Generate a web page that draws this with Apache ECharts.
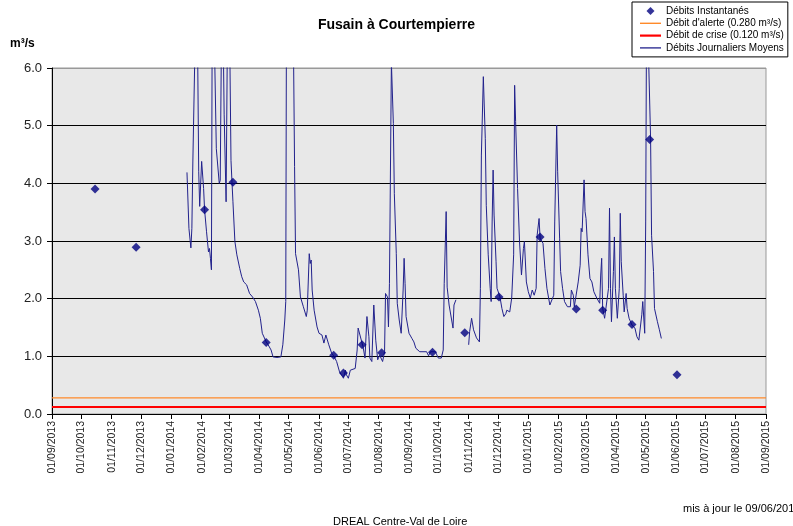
<!DOCTYPE html>
<html>
<head>
<meta charset="utf-8">
<script src="https://cdn.jsdelivr.net/npm/echarts@6/dist/echarts.min.js"></script>
<style>
html,body{margin:0;padding:0;background:#fff;}
#chart{width:793px;height:526px;}
</style>
</head>
<body>
<div id="chart"></div>
<script>
// ticks of the x axis: first day of each month
var monthTicks = ['2013-09-01','2013-10-01','2013-11-01','2013-12-01','2014-01-01','2014-02-01','2014-03-01',
    '2014-04-01','2014-05-01','2014-06-01','2014-07-01','2014-08-01','2014-09-01','2014-10-01','2014-11-01',
    '2014-12-01','2015-01-01','2015-02-01','2015-03-01','2015-04-01','2015-05-01','2015-06-01','2015-07-01',
    '2015-08-01','2015-09-01'];

// débits instantanés (diamants)
var spotDates = ['2013-10-15','2013-11-26','2014-02-04','2014-03-05','2014-04-08','2014-06-16','2014-06-26',
    '2014-07-15','2014-08-04','2014-09-25','2014-10-28','2014-12-02','2015-01-13','2015-02-19','2015-03-18',
    '2015-04-17','2015-05-05','2015-06-02'];
var spotValues = [3.90,2.89,3.54,4.02,1.24,1.02,0.71,1.20,1.06,1.07,1.41,2.03,3.07,1.82,1.80,1.55,4.76,0.68];

// débits journaliers moyens ('-' = pas de donnée)
var flowDates = ['2014-01-17','2014-01-19','2014-01-21','2014-01-22','2014-01-23','2014-01-25','2014-01-27',
    '2014-01-29','2014-01-30','2014-02-01','2014-02-03','2014-02-04','2014-02-06','2014-02-08','2014-02-09',
    '2014-02-10','2014-02-11','2014-02-12','2014-02-14','2014-02-16','2014-02-19','2014-02-20','2014-02-22',
    '2014-02-24','2014-02-26','2014-02-28','2014-03-02','2014-03-03','2014-03-04','2014-03-05','2014-03-07',
    '2014-03-09','2014-03-12','2014-03-14','2014-03-16','2014-03-19','2014-03-22','2014-03-25','2014-03-28',
    '2014-03-31','2014-04-02','2014-04-04','2014-04-08','2014-04-10','2014-04-13','2014-04-15','2014-04-17',
    '2014-04-19','2014-04-23','2014-04-25','2014-04-27','2014-04-28','2014-04-29','2014-05-05','2014-05-07',
    '2014-05-08','2014-05-11','2014-05-13','2014-05-16','2014-05-19','2014-05-20','2014-05-22','2014-05-23',
    '2014-05-24','2014-05-25','2014-05-27','2014-05-30','2014-06-01','2014-06-04','2014-06-06','2014-06-08',
    '2014-06-11','2014-06-14','2014-06-16','2014-06-19','2014-06-22','2014-06-24','2014-06-26','2014-06-28',
    '2014-06-29','2014-07-01','2014-07-03','2014-07-05','2014-07-08','2014-07-10','2014-07-11','2014-07-13',
    '2014-07-15','2014-07-16','2014-07-18','2014-07-19','2014-07-20','2014-07-22','2014-07-23','2014-07-25',
    '2014-07-27','2014-07-29','2014-07-31','2014-08-02','2014-08-05','2014-08-07','2014-08-08','2014-08-10',
    '2014-08-11','2014-08-12','2014-08-14','2014-08-16','2014-08-17','2014-08-19','2014-08-20','2014-08-22',
    '2014-08-24','2014-08-26','2014-08-27','2014-08-28','2014-08-29','2014-09-01','2014-09-04','2014-09-06',
    '2014-09-08','2014-09-12','2014-09-19','2014-09-21','2014-09-23','2014-09-28','2014-10-01','2014-10-04',
    '2014-10-06','2014-10-07','2014-10-09','2014-10-10','2014-10-12','2014-10-14','2014-10-16','2014-10-17',
    '2014-10-19','2014-10-25','2014-11-01','2014-11-02','2014-11-04','2014-11-06','2014-11-09','2014-11-12',
    '2014-11-13','2014-11-14','2014-11-16','2014-11-18','2014-11-19','2014-11-21','2014-11-23','2014-11-24',
    '2014-11-25','2014-11-26','2014-11-27','2014-11-29','2014-11-30','2014-12-03','2014-12-05','2014-12-07',
    '2014-12-09','2014-12-10','2014-12-13','2014-12-15','2014-12-17','2014-12-18','2014-12-19','2014-12-21',
    '2014-12-23','2014-12-25','2014-12-27','2014-12-28','2014-12-30','2015-01-01','2015-01-03','2015-01-05',
    '2015-01-07','2015-01-09','2015-01-10','2015-01-12','2015-01-13','2015-01-16','2015-01-18','2015-01-20',
    '2015-01-23','2015-01-25','2015-01-27','2015-01-28','2015-01-30','2015-01-31','2015-02-02','2015-02-03',
    '2015-02-05','2015-02-07','2015-02-10','2015-02-13','2015-02-14','2015-02-16','2015-02-17','2015-02-19',
    '2015-02-21','2015-02-23','2015-02-24','2015-02-25','2015-02-27','2015-02-28','2015-03-01','2015-03-03',
    '2015-03-05','2015-03-07','2015-03-09','2015-03-12','2015-03-15','2015-03-16','2015-03-17','2015-03-18',
    '2015-03-20','2015-03-22','2015-03-24','2015-03-25','2015-03-26','2015-03-27','2015-03-29','2015-03-30',
    '2015-03-31','2015-04-02','2015-04-04','2015-04-05','2015-04-06','2015-04-08','2015-04-09','2015-04-11',
    '2015-04-12','2015-04-14','2015-04-17','2015-04-20','2015-04-22','2015-04-24','2015-04-27','2015-04-28',
    '2015-04-30','2015-05-01','2015-05-02','2015-05-04','2015-05-06','2015-05-07','2015-05-09','2015-05-10',
    '2015-05-13','2015-05-15','2015-05-17'];
var flowValues = [4.19,3.22,2.88,3.22,4.37,4.37,8,
    4.2,3.6,4.38,3.91,3.54,3.16,2.81,2.87,
    2.70,2.50,8,6.5,4.6,4.0,4.05,8,
    5.2,3.68,8,6.0,4.4,4.03,3.68,2.99,
    2.76,2.52,2.38,2.29,2.24,2.09,2.03,1.95,
    1.80,1.66,1.40,1.25,1.20,1.11,0.99,0.97,
    0.98,0.99,1.20,1.63,1.95,9,8,4.29,
    2.78,2.50,2.03,1.86,1.69,1.80,2.78,2.61,
    2.67,2.15,1.80,1.51,1.40,1.37,1.23,1.37,
    1.20,1.05,1.01,0.91,0.73,0.70,0.62,0.76,
    0.68,0.62,0.76,0.79,0.79,1.11,1.49,1.46,
    1.23,1.17,0.97,0.94,1.69,1.34,0.97,0.91,
    1.89,1.28,0.94,1.02,0.91,1.08,2.09,2.03,
    1.51,2.26,6.1,5.04,3.82,2.78,1.92,1.63,
    1.40,2.15,2.70,2.26,1.69,1.40,1.31,1.25,
    1.14,1.08,1.08,1.01,1.08,1.08,0.97,0.97,
    1.11,2.26,3.51,2.2,1.89,1.86,1.49,1.89,
    1.98,'-',1.20,1.43,1.66,1.46,1.32,1.25,
    2.18,4.49,5.85,4.78,3.62,2.76,2.18,1.95,
    3.33,4.23,3.45,2.64,2.18,2.03,1.83,1.69,
    1.74,1.80,1.77,2.01,2.76,5.70,5.07,3.91,
    2.99,2.41,2.87,2.99,2.29,2.12,2.01,2.15,
    2.06,2.18,3.10,3.39,3.05,2.96,2.52,2.18,
    1.89,1.86,2.06,3.33,5.01,4.20,3.05,2.47,
    2.18,1.95,1.86,1.86,2.15,2.06,1.86,1.83,
    2.29,2.58,3.22,3.16,4.06,3.51,3.39,2.76,
    2.35,2.29,2.12,2.01,1.92,2.41,2.70,1.83,
    1.66,1.63,2.18,3.57,2.18,1.60,2.47,3.07,
    2.18,1.66,2.18,3.48,2.64,2.06,1.77,2.09,
    1.83,1.66,1.54,1.49,1.34,1.28,1.72,1.95,
    1.40,3.33,7.5,7.5,4.78,3.10,2.47,1.83,
    1.60,1.46,1.31];

var alertValue = 0.28;
var crisisValue = 0.12;

var FONT = '"Liberation Sans", Arial, sans-serif';

function toTime(s) {
    var p = s.split('-');
    return new Date(+p[0], +p[1] - 1, +p[2]).getTime();
}
function pad(n) { return n < 10 ? '0' + n : '' + n; }

var tickTimes = monthTicks.map(toTime);
var xMin = tickTimes[0];
var xMax = tickTimes[tickTimes.length - 1];

var flowData = [];
for (var i = 0; i < flowDates.length; i++) {
    flowData.push([toTime(flowDates[i]), flowValues[i]]);
}
var spotData = [];
for (var j = 0; j < spotDates.length; j++) {
    spotData.push([toTime(spotDates[j]), spotValues[j]]);
}

var chart = echarts.init(document.getElementById('chart'), null, {renderer: 'canvas'});
var option = {
    animation: false,
    textStyle: {fontFamily: FONT},
    title: {
        text: 'Fusain à Courtempierre',
        left: 'center',
        top: 13,
        textStyle: {fontSize: 14, fontWeight: 'bold', color: '#000', fontFamily: FONT}
    },
    legend: {
        orient: 'vertical',
        left: 632,
        top: 2,
        backgroundColor: '#fff',
        borderColor: '#000',
        borderWidth: 1,
        borderRadius: 0,
        padding: [4, 4, 4, 8],
        itemGap: 2.3,
        itemWidth: 21,
        itemHeight: 8,
        symbolKeepAspect: true,
        textStyle: {fontSize: 10, color: '#000', lineHeight: 10, fontFamily: FONT},
        data: [
            {name: 'Débits Instantanés', icon: 'path://M5,0L10,5L5,10L0,5Z'},
            {name: 'Débit d\'alerte (0.280 m³/s)', icon: 'path://M0,0H21V1.4H0Z'},
            {name: 'Débit de crise (0.120 m³/s)', icon: 'path://M0,0H21V2.2H0Z'},
            {name: 'Débits Journaliers Moyens', icon: 'path://M0,0H21V1.3H0Z'}
        ]
    },
    grid: {
        left: 52, right: 27, top: 68, bottom: 112,
        show: true,
        backgroundColor: '#e8e8e8',
        borderColor: '#999',
        borderWidth: 1
    },
    xAxis: {
        type: 'value',
        min: xMin,
        max: xMax,
        axisLine: {lineStyle: {color: '#000', width: 1}},
        axisTick: {show: true, length: 5, lineStyle: {color: '#000'}, customValues: tickTimes},
        axisLabel: {
            rotate: 90,
            fontSize: 10.5,
            color: '#222',
            margin: 7,
            customValues: tickTimes,
            formatter: function (v) {
                var d = new Date(v);
                return pad(d.getDate()) + '/' + pad(d.getMonth() + 1) + '/' + d.getFullYear();
            }
        },
        splitLine: {show: false}
    },
    yAxis: {
        type: 'value',
        min: 0,
        max: 6,
        interval: 1,
        axisLine: {show: true, lineStyle: {color: '#000', width: 1}},
        axisTick: {show: true, length: 5, lineStyle: {color: '#000'}},
        axisLabel: {
            fontSize: 13,
            color: '#222',
            margin: 10,
            formatter: function (v) { return v.toFixed(1); }
        },
        splitLine: {show: true, lineStyle: {color: ['#000', '#000', '#000', '#000', '#000', '#000', '#999'], width: 1}}
    },
    graphic: [
        {type: 'text', left: 10, top: 38, style: {text: 'm³/s', fill: '#000', font: 'bold 12px ' + FONT}},
        {type: 'text', left: 683, top: 503, style: {text: 'mis à jour le 09/06/2015', fill: '#000', font: '11px ' + FONT}},
        {type: 'text', left: 333, top: 516, style: {text: 'DREAL Centre-Val de Loire', fill: '#000', font: '11px ' + FONT}}
    ],
    series: [
        {
            name: 'Débit d\'alerte (0.280 m³/s)',
            type: 'line',
            symbol: 'none',
            silent: true,
            lineStyle: {color: '#ff8a2a', width: 1.4},
            itemStyle: {color: '#ff8a2a'},
            data: [[xMin, alertValue], [xMax, alertValue]],
            z: 3
        },
        {
            name: 'Débit de crise (0.120 m³/s)',
            type: 'line',
            symbol: 'none',
            silent: true,
            lineStyle: {color: '#ff0000', width: 2},
            itemStyle: {color: '#ff0000'},
            data: [[xMin, crisisValue], [xMax, crisisValue]],
            z: 3
        },
        {
            name: 'Débits Journaliers Moyens',
            type: 'line',
            symbol: 'none',
            connectNulls: false,
            lineStyle: {color: '#22228c', width: 1},
            itemStyle: {color: '#22228c'},
            data: flowData,
            z: 4
        },
        {
            name: 'Débits Instantanés',
            type: 'scatter',
            symbol: 'diamond',
            symbolSize: 9,
            itemStyle: {color: '#000080'},
            data: spotData,
            z: 5
        }
    ]
};
chart.setOption(option);
</script>
</body>
</html>
